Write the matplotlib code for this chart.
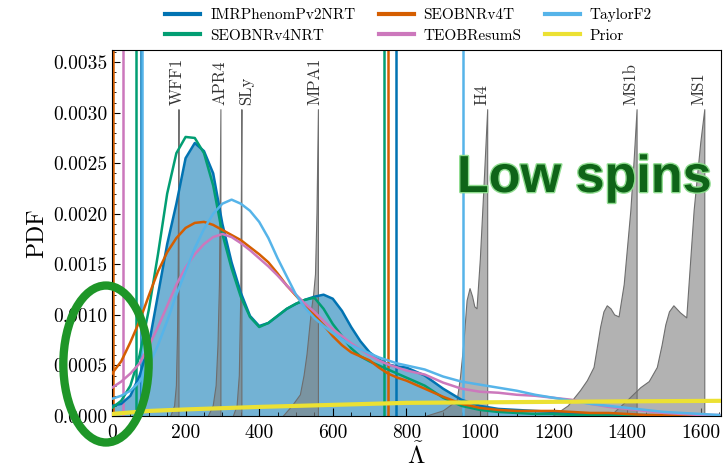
import matplotlib
matplotlib.use('Agg')
import matplotlib.pyplot as plt
import matplotlib.patheffects as pe
from matplotlib.patches import Ellipse
from matplotlib.lines import Line2D
from matplotlib.ticker import MultipleLocator, FormatStrFormatter

# Lambda-tilde grid shared by the posterior curves
lam = [0, 25, 50, 75, 100, 125, 150, 175, 200, 225, 250, 275, 300, 325, 350, 375,
       400, 425, 450, 475, 500, 525, 550, 575, 600, 625, 650, 675, 700, 725, 750, 775,
       800, 850, 900, 950, 1000, 1050, 1100, 1150, 1200, 1250, 1300, 1350, 1400, 1450,
       1500, 1550, 1600, 1650]

# posterior PDFs, in units of 1e-4
imr_e4 = [1.0, 1.2, 2.0, 4.0, 7.0, 12.0, 17.0, 21.0, 25.5, 27.0, 26.2, 24.0, 19.0, 15.2, 12.2, 9.9,
          8.9, 9.2, 9.9, 10.6, 11.1, 11.5, 11.8, 12.0, 11.6, 10.4, 8.8, 7.4, 6.3, 5.6, 5.1, 4.9,
          4.8, 4.0, 2.7, 1.6, 1.0, 0.7, 0.6, 0.5, 0.4, 0.3, 0.2, 0.2, 0.1, 0.1,
          0.05, 0.0, 0.0, 0.0]
seobnrt_e4 = [0.8, 1.5, 3.0, 6.0, 10.5, 16.0, 22.0, 26.0, 27.6, 27.5, 26.0, 22.8, 18.0, 14.6, 11.8, 9.8,
              8.8, 9.2, 9.9, 10.6, 11.1, 11.5, 11.7, 10.6, 9.1, 7.9, 6.7, 5.9, 5.4, 5.0, 4.6, 4.2,
              3.8, 3.0, 1.8, 1.0, 0.6, 0.4, 0.3, 0.2, 0.2, 0.1, 0.1, 0.05, 0.0, 0.0,
              0.0, 0.0, 0.0, 0.0]
seobt_e4 = [4.2, 5.4, 7.3, 9.4, 11.9, 14.3, 16.2, 17.6, 18.6, 19.1, 19.2, 18.9, 18.4, 17.9, 17.4, 16.7,
            16.0, 15.2, 14.1, 12.9, 11.9, 10.9, 10.0, 9.0, 7.9, 7.0, 6.3, 5.9, 5.5, 4.8, 4.2, 3.8,
            3.5, 2.7, 1.9, 1.2, 0.8, 0.6, 0.5, 0.5, 0.5, 0.4, 0.3, 0.3, 0.2, 0.1,
            0.1, 0.05, 0.0, 0.0]
teob_e4 = [2.8, 3.4, 4.2, 5.2, 6.9, 8.8, 10.9, 13.0, 14.7, 16.0, 17.0, 17.7, 18.0, 17.7, 17.1, 16.4,
           15.6, 14.8, 13.9, 12.9, 12.0, 11.1, 10.3, 9.4, 8.6, 7.9, 7.2, 6.6, 6.0, 5.5, 5.1, 4.8,
           4.5, 4.1, 3.3, 2.7, 2.4, 2.3, 2.1, 2.0, 1.8, 1.6, 1.2, 0.9, 0.7, 0.5,
           0.3, 0.2, 0.1, 0.1]
tf2_e4 = [1.7, 2.0, 2.5, 3.4, 5.0, 7.0, 9.4, 12.0, 14.3, 16.6, 18.5, 20.0, 21.0, 21.4, 21.0, 20.3,
          19.2, 17.6, 15.6, 13.8, 12.0, 10.7, 9.7, 8.9, 8.2, 7.6, 7.0, 6.6, 6.2, 5.8, 5.5, 5.2,
          5.0, 4.6, 3.9, 3.4, 3.1, 2.8, 2.5, 2.1, 1.8, 1.5, 1.2, 1.0, 0.8, 0.6,
          0.4, 0.3, 0.2, 0.1]

prior_lam = [0, 100, 200, 400, 600, 800, 1000, 1200, 1400, 1650]
prior_e4 = [0.2, 0.5, 0.65, 0.9, 1.1, 1.3, 1.35, 1.4, 1.45, 1.5]

# 90% bounds (None = off the plot)
bound_low = [78, 66, 3, 30, 82]
bound_high = [773, 740, 751, None, 955]

names = ['IMRPhenomPv2NRT', 'SEOBNRv4NRT', 'SEOBNRv4T', 'TEOBResumS', 'TaylorF2']
colors = ['#0173b2', '#029e73', '#d55e00', '#cc78bc', '#56b4e9']
prior_color = '#ece133'

# EOS predictions
wff1_lam = [160, 170, 175, 178, 180, 182, 182]
wff1_e4 = [0, 1, 3, 8, 15, 30.3, 0]
apr4_lam = [262, 275, 283, 288, 292, 296, 296]
apr4_e4 = [0, 1, 3, 7, 13, 30.3, 0]
sly_lam = [330, 340, 346, 350, 353, 353]
sly_e4 = [0, 1, 4, 12, 30.3, 0]
mpa1_lam = [466, 490, 512, 522, 530, 538, 543, 548, 553, 557, 561, 561]
mpa1_e4 = [0, 1, 2.1, 4, 6.1, 9, 10.7, 12, 14, 20, 30.3, 0]
h4_lam = [856, 900, 938, 947, 956, 965, 973, 980, 986, 992, 1001, 1010, 1021, 1021]
h4_e4 = [0, 0.5, 1.5, 3.8, 7.1, 11.4, 12.6, 11.8, 10.8, 10.6, 15.5, 22, 30.3, 0]
ms1b_lam = [1200, 1240, 1273, 1292, 1310, 1320, 1328, 1337, 1346, 1356, 1366, 1378, 1392, 1410, 1419, 1427, 1427]
ms1b_e4 = [0, 1, 2.5, 3.5, 4.8, 7, 8.8, 10.3, 10.9, 10.6, 10.0, 9.8, 13.0, 20.3, 25.3, 30.3, 0]
ms1_lam = [1355, 1400, 1437, 1460, 1482, 1495, 1505, 1515, 1527, 1545, 1562, 1582, 1600, 1611, 1611]
ms1_e4 = [0, 1.5, 2.8, 3.4, 4.8, 7, 9, 10.3, 10.9, 10.2, 9.7, 20.3, 27, 30.3, 0]

eos_names = ['WFF1', 'APR4', 'SLy', 'MPA1', 'H4', 'MS1b', 'MS1']
eos_curves = [(wff1_lam, wff1_e4), (apr4_lam, apr4_e4), (sly_lam, sly_e4), (mpa1_lam, mpa1_e4),
              (h4_lam, h4_e4), (ms1b_lam, ms1b_e4), (ms1_lam, ms1_e4)]
eos_label_x = [177, 294, 366, 552, 1006, 1410, 1595]

plt.rcParams['font.family'] = 'serif'
plt.rcParams['font.serif'] = ['cmr10']
plt.rcParams['mathtext.fontset'] = 'cm'
plt.rcParams['axes.unicode_minus'] = False

s = 1e-4
fig = plt.figure(figsize=(7.23, 4.70), dpi=100)
ax = fig.add_axes([0.1549, 0.1149, 0.8423, 0.7787])

ax.fill_between(lam, [v * s for v in imr_e4], color=colors[0], alpha=0.55, lw=0, zorder=1)

for (xs, ys), nm, lx in zip(eos_curves, eos_names, eos_label_x):
    ax.fill(xs, [v * s for v in ys], facecolor='gray', alpha=0.6, edgecolor='none', zorder=2)
    ax.plot(xs, [v * s for v in ys], color='#6e6e6e', lw=0.8, zorder=2.1)
    ax.text(lx, 0.00308, nm, rotation=90, ha='center', va='bottom', fontsize=12, color='#333333')

curves = [imr_e4, seobnrt_e4, seobt_e4, teob_e4, tf2_e4]
for ys, c, lo, hi in zip(curves, colors, bound_low, bound_high):
    ax.plot(lam, [v * s for v in ys], color=c, lw=1.8, zorder=3)
    ax.axvline(lo, color=c, lw=1.8, zorder=2.5)
    if hi is not None:
        ax.axvline(hi, color=c, lw=1.8, zorder=2.5)

ax.plot(prior_lam, [v * s for v in prior_e4], color=prior_color, lw=3, zorder=3.5)

ax.set_xlim(0, 1655)
ax.set_ylim(0, 0.00362)
ax.xaxis.set_major_locator(MultipleLocator(200))
ax.xaxis.set_minor_locator(MultipleLocator(50))
ax.yaxis.set_major_locator(MultipleLocator(0.0005))
ax.yaxis.set_minor_locator(MultipleLocator(0.0001))
ax.yaxis.set_major_formatter(FormatStrFormatter('%.4f'))
ax.tick_params(which='both', direction='in', labelsize=14)
ax.tick_params(which='major', length=6)
ax.tick_params(which='minor', length=3)
ax.tick_params(axis='x', pad=6)
ax.tick_params(axis='y', pad=3)
ax.set_ylabel('PDF', fontsize=17, labelpad=4)
ax.set_xlabel(r'$\tilde{\Lambda}$', fontsize=18, labelpad=0)

handles = []
for c in colors:
    handles.append(Line2D([], [], color=c, lw=3))
handles.append(Line2D([], [], color=prior_color, lw=3))
labels = names + ['Prior']
fig.legend(handles, labels, ncol=3, loc='upper center', bbox_to_anchor=(0.565, 1.012),
           frameon=False, fontsize=11, handlelength=2.3, handletextpad=0.65,
           columnspacing=1.5, labelspacing=0.45)

fig.text(0.632, 0.5915, 'Low spins', fontsize=37.5, fontweight='bold', family='Liberation Sans',
         color='#0f6418', ha='left', va='baseline',
         path_effects=[pe.withStroke(linewidth=2, foreground='#8fdc8f')])

ell = Ellipse((0.1466, 0.2255), 0.118, 0.334, transform=fig.transFigure, fill=False,
              edgecolor='#1e9628', lw=6, clip_on=False, zorder=10)
fig.add_artist(ell)

fig.savefig('out.png', dpi=100)
